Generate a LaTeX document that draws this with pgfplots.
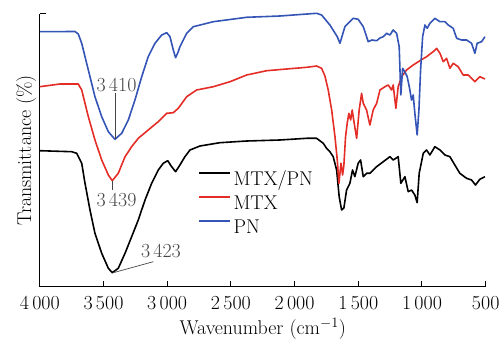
\documentclass[border=0pt]{standalone}
\usepackage{pgfplots}
\pgfplotsset{compat=1.18}
\definecolor{cred}{RGB}{228,45,38}
\definecolor{cblue}{RGB}{52,84,182}
\definecolor{annot}{RGB}{70,70,70}
\begin{document}
\fontsize{20}{24}\selectfont
\begin{tikzpicture}[x=1bp,y=1bp,font=\fontsize{20}{24}\selectfont]
\begin{axis}[
  at={(0,0)}, anchor=south west,
  scale only axis, width=445.9bp, height=272.7bp,
  x dir=reverse, xmin=500, xmax=4000, ymin=0, ymax=272.7,
  axis x line=bottom, axis y line=left,
  axis line style={-, line width=1.2bp},
  xtick={500,1000,1500,2000,2500,3000,3500,4000},
  xticklabels={500,1\,000,1\,500,2\,000,2\,500,3\,000,3\,500,4\,000},
  ytick={272.7}, yticklabels={},
  tick align=inside, major tick length=6bp,
  tick style={line width=1.0bp, black},
  tick label style={font=\fontsize{20}{24}\selectfont},
  label style={font=\fontsize{20}{24}\selectfont},
  xticklabel style={yshift=-3bp},
  xlabel={Wavenumber (cm$^{-1}$)},
  ylabel={Transmittance (\%)},
  xlabel style={at={(axis description cs:0.5,-0.177)}, anchor=base},
  ylabel style={at={(axis description cs:-0.0197,0.5)}, anchor=base},
  legend cell align=left,
  legend style={draw=none, fill=none, at={(axis description cs:0.3537,0.428)}, anchor=north west,
    inner sep=0pt, row sep=4bp, column sep=0pt, font=\fontsize{20}{24}\selectfont,
    nodes={inner ysep=0pt, inner xsep=2.5bp, text height=15bp, text depth=5bp}},
  clip=false,
]
\addplot[black, line width=1.6bp, line join=round,
  legend image code/.code={\draw[black, line width=1.6bp] (0bp,7bp) -- (31.7bp,7bp);}] coordinates {
(4000,136) (3750,135) (3710,133.4) (3671,123.4) (3645,103.4) (3606,76.7) (3567,53.4)
(3514,33.4) (3462,18.4) (3431,14) (3384,18.4) (3331,33.4) (3279,50) (3227,66.7)
(3174,86.7) (3122,103.4) (3070,116.7) (3031,123.4) (2996,126) (2965,120) (2934,115)
(2900,121.7) (2861,130) (2821,136.7) (2743,140.7) (2586,144) (2376,145.7) (2115,146.7)
(1905,148.4) (1827,148.4) (1775,143.4) (1749,138.4) (1723,135) (1697,130) (1670,116.7)
(1650,90) (1631,76.7) (1613,78.7) (1592,96.7) (1566,103.4) (1545,116.7) (1527,110)
(1501,123.4) (1482,126.7) (1461,110) (1435,113.4) (1409,113.4) (1356,120) (1304,125)
(1252,130) (1226,126.7) (1187,130) (1166,103.4) (1134,110) (1108,95) (1082,96.7)
(1056,91.7) (1038,84) (1022,113.4) (990,133.4) (964,136.7) (938,131.7) (899,140)
(859,136.7) (820,131.7) (781,130) (742,121.7) (703,113.4) (650,108.4) (611,106.7)
(580,101.7) (546,107.4) (506,110)
};
\addlegendentry{MTX/PN}
\addplot[color=cred, line width=1.6bp, line join=round,
  legend image code/.code={\draw[cred, line width=1.6bp] (0bp,7bp) -- (31.7bp,7bp);}] coordinates {
(4000,200) (3841,202.7) (3698,202.7) (3671,196.7) (3619,170) (3567,146.7) (3514,126.7)
(3462,111.7) (3431,106) (3384,113.4) (3331,130) (3279,140) (3227,148.4) (3149,156.7)
(3070,165) (3004,173.4) (2952,174) (2913,178.4) (2847,190) (2769,196.7) (2638,200)
(2507,205) (2376,211.7) (2219,216) (2062,217.7) (1905,219.4) (1827,220.7) (1788,218.4)
(1762,210.7) (1736,196.7) (1709,176.7) (1683,150) (1665,126.7) (1652,103.4) (1636,123.4)
(1623,111.7) (1613,121.7) (1600,150) (1587,163.4) (1574,173.4) (1560,166.7) (1548,176.7)
(1532,163.4) (1513,148.4) (1493,176.7) (1474,193.4) (1461,183.4) (1435,176.7) (1409,161.7)
(1383,176.7) (1356,183.4) (1330,196.7) (1291,200) (1265,201.7) (1239,196.7) (1226,201.7)
(1205,178.4) (1187,200) (1160,210) (1121,216.7) (1069,221.7) (1016,226) (964,230)
(912,235) (885,238.4) (859,233.4) (833,225) (807,228.4) (781,218.4) (755,223.4)
(716,220) (677,211.7) (637,211.7) (585,205) (546,210) (506,207.7)
};
\addlegendentry{MTX}
\addplot[color=cblue, line width=1.6bp, line join=round,
  legend image code/.code={\draw[cblue, line width=1.6bp] (0bp,7bp) -- (31.7bp,7bp);}] coordinates {
(4000,255) (3724,255.2) (3698,252.7) (3671,243.4) (3619,216.7) (3567,190) (3514,170)
(3462,155) (3410,147.4) (3357,153.4) (3305,166.7) (3253,186.7) (3200,210) (3149,230)
(3096,243.4) (3043,251.7) (3004,254) (2978,250) (2952,236.7) (2934,229) (2913,235)
(2900,240) (2847,253.4) (2795,260) (2638,265) (2376,269.4) (2115,270.7) (1827,273.4)
(1788,271.7) (1723,261.7) (1665,250) (1644,243.4) (1605,260) (1540,268.4) (1501,267.4)
(1461,260) (1422,245) (1393,246.7) (1356,246) (1330,248.7) (1304,250) (1278,253.4)
(1252,251.7) (1226,256.7) (1199,253.4) (1179,240) (1166,191.7) (1152,218.4) (1134,214.7)
(1116,210) (1095,196.7) (1082,186.7) (1069,191.7) (1056,173.4) (1038,151.7) (1024,176.7)
(1011,216.7) (995,250) (977,261.7) (959,258.4) (938,263.4) (899,268.4) (859,265)
(820,265) (794,261.7) (755,258.4) (728,248.4) (689,246.7) (650,246.7) (611,243.4)
(585,233.4) (567,243.4) (532,245) (506,250)
};
\addlegendentry{PN}
% annotations
\draw[annot, line width=0.7bp] (axis cs:3410,147.4) -- (axis cs:3410,194);
\node[annot, anchor=base, inner sep=0bp] at (axis cs:3398,195.5) {3\,410};
\draw[annot, line width=0.7bp] (axis cs:3431,106) -- (axis cs:3431,97);
\node[annot, anchor=base, inner sep=0bp] at (axis cs:3398,80) {3\,439};
\draw[annot, line width=0.7bp] (axis cs:3423,14) -- (axis cs:3109,25);
\node[annot, anchor=base, inner sep=0bp] at (axis cs:3049,29) {3\,423};
\end{axis}
\pgfresetboundingbox
\path[use as bounding box] (-39.8bp,-54.3bp) rectangle (462.2bp,286.7bp);
\end{tikzpicture}
\end{document}
